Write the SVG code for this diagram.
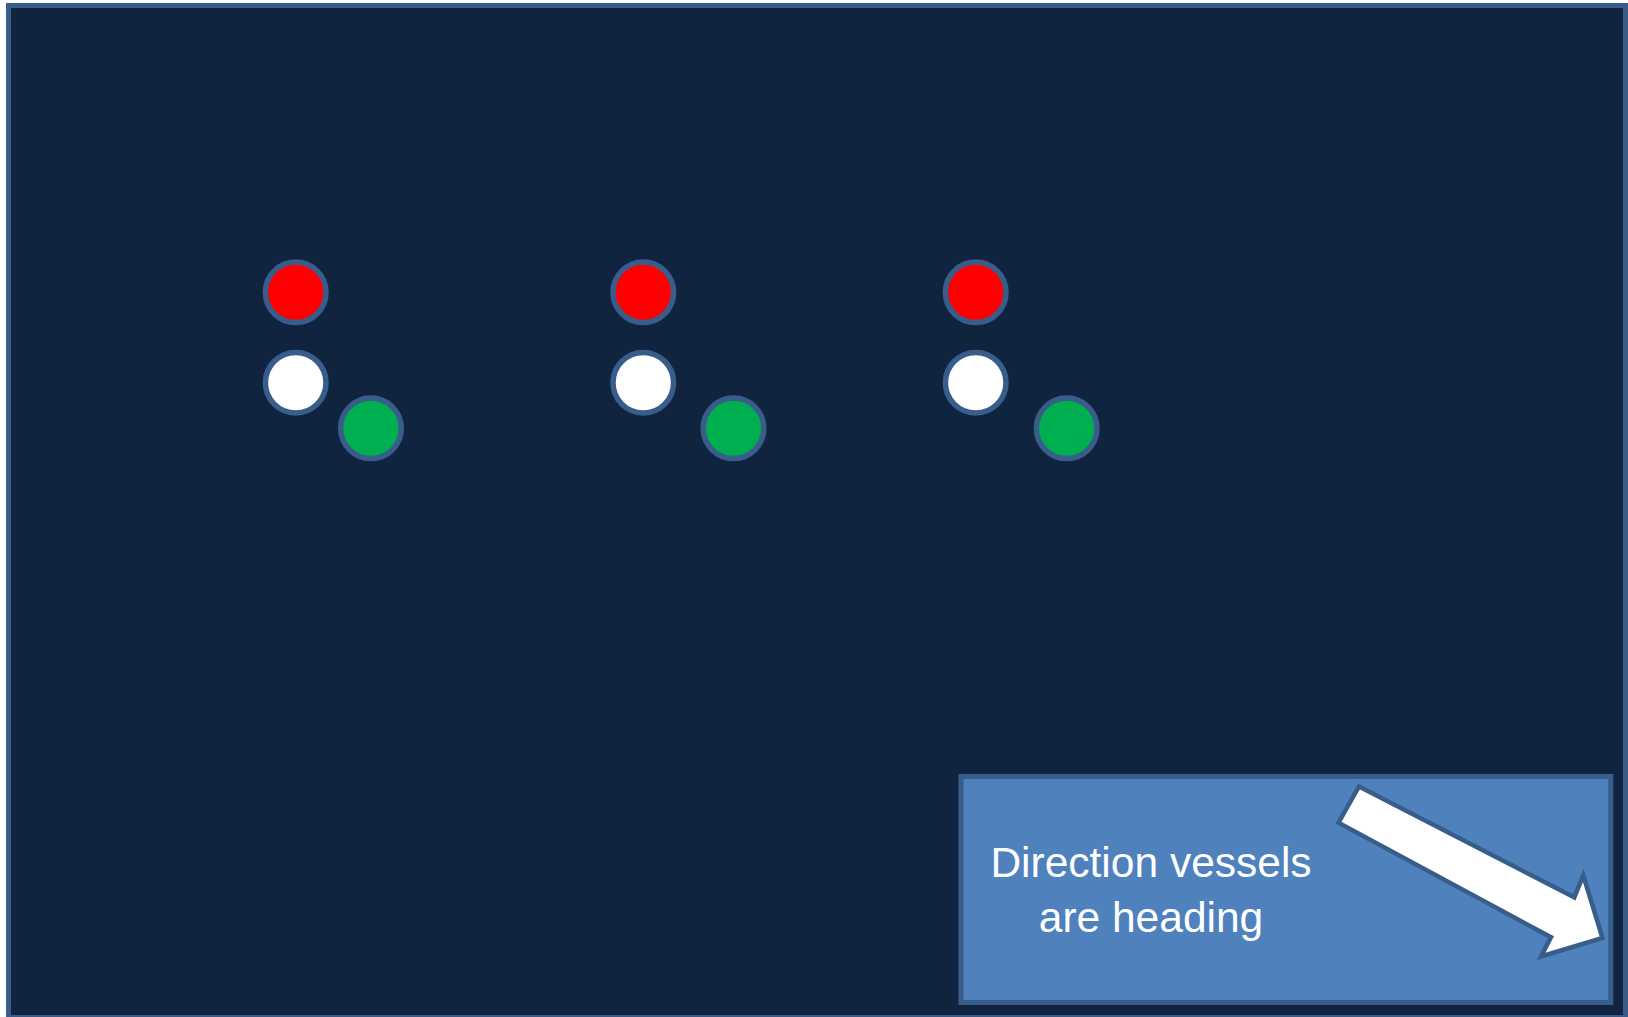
<svg xmlns="http://www.w3.org/2000/svg" width="1628" height="1017" viewBox="0 0 1628 1017">
<style>
.ring{stroke:#385d8a;stroke-width:5.5}
.red{fill:#ff0000}
.white{fill:#ffffff}
.green{fill:#00b050}
.label{font-family:"Liberation Sans",Arial,sans-serif;font-size:42.5px;fill:#ffffff;text-anchor:middle}
</style>
<rect x="0" y="0" width="1628" height="1017" fill="#ffffff"/>
<rect id="background" x="8.5" y="5.5" width="1617" height="1012" fill="#10243f" stroke="#385d8a" stroke-width="5"/>
<g id="vessel1">
<circle class="ring red" cx="295.7" cy="292.3" r="30.3"/>
<circle class="ring white" cx="295.7" cy="382.7" r="30.3"/>
<circle class="ring green" cx="371" cy="428.3" r="30.3"/>
</g>
<g id="vessel2">
<circle class="ring red" cx="643.3" cy="292.3" r="30.3"/>
<circle class="ring white" cx="643.3" cy="382.7" r="30.3"/>
<circle class="ring green" cx="733.5" cy="428.3" r="30.3"/>
</g>
<g id="vessel3">
<circle class="ring red" cx="975.7" cy="292.3" r="30.3"/>
<circle class="ring white" cx="975.7" cy="382.7" r="30.3"/>
<circle class="ring green" cx="1066.7" cy="428.3" r="30.3"/>
</g>
<g id="legend">
<rect x="961" y="776.5" width="649.8" height="226" fill="#4f81bd" stroke="#385d8a" stroke-width="5"/>
<text class="label" x="1151" y="876.7">Direction vessels</text>
<text class="label" x="1151" y="931.7">are heading</text>
<polygon id="heading-arrow" points="1359,786.5 1574.3,897.3 1583.3,875.5 1602.5,938 1541,956.5 1551,937.3 1338.5,822.7" fill="#ffffff" stroke="#385d8a" stroke-width="4.5" stroke-linejoin="miter"/>
</g>
<g id="connectors"></g>
</svg>
